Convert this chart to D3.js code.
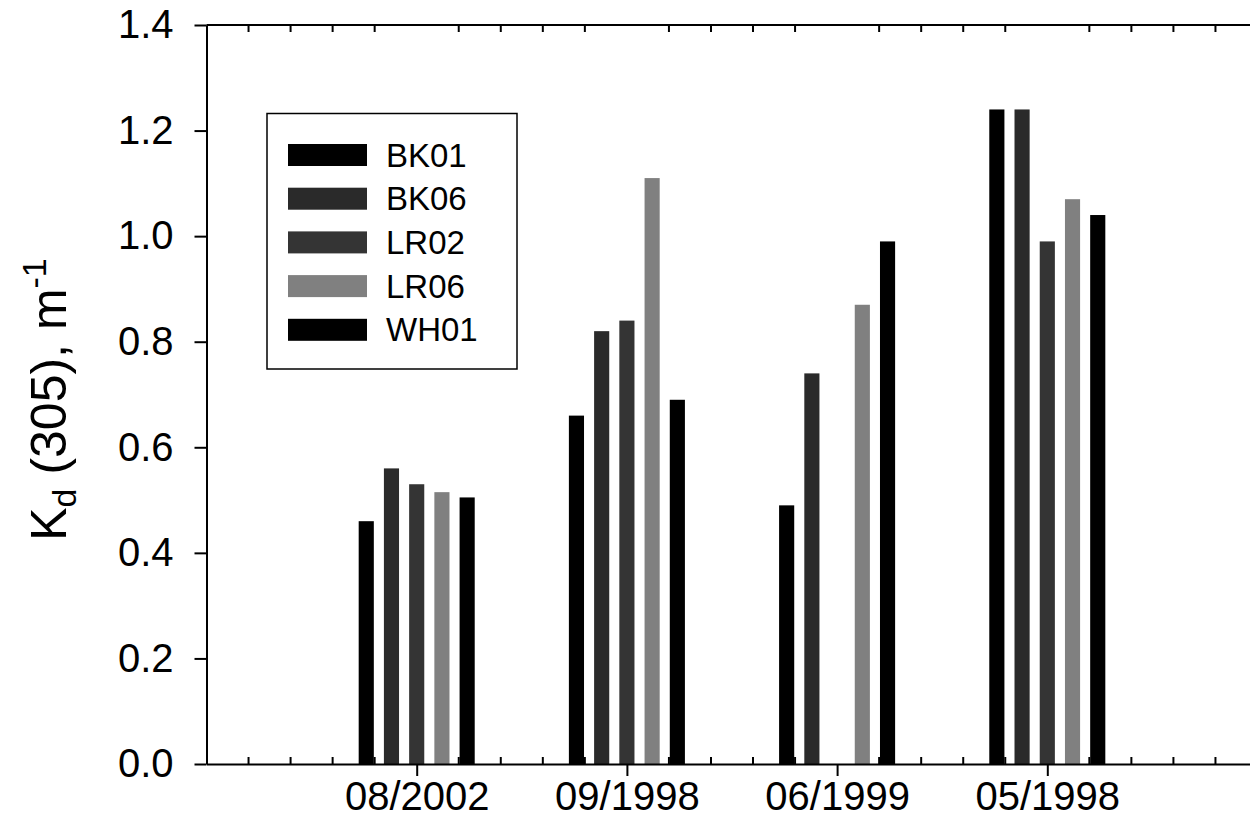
<!DOCTYPE html>
<html>
<head>
<meta charset="utf-8">
<script src="https://cdn.jsdelivr.net/npm/d3@7"></script>
<style>
  body { margin: 0; background: #fff; }
  svg { display: block; font-family: "Liberation Sans", Arial, sans-serif; }
</style>
</head>
<body>
<svg id="chart" width="1250" height="818"></svg>
<script>
// dates along the x axis
var dates = ["08/2002", "09/1998", "06/1999", "05/1998"];
// stations (series)
var stations = ["BK01", "BK06", "LR02", "LR06", "WH01"];
var colors = ["#000000", "#2a2a2a", "#343434", "#808080", "#000000"];
// Kd(305) values per station, one per date (null = no bar)
var bk01 = [0.46, 0.66, 0.49, 1.24];
var bk06 = [0.56, 0.82, 0.74, 1.24];
var lr02 = [0.53, 0.84, null, 0.99];
var lr06 = [0.515, 1.11, 0.87, 1.07];
var wh01 = [0.505, 0.69, 0.99, 1.04];
var yTicks = [0, 0.2, 0.4, 0.6, 0.8, 1.0, 1.2, 1.4];

var values = [bk01, bk06, lr02, lr06, wh01];

var svg = d3.select("#chart");

var plotLeft = 206.5, plotTop = 25, plotBottom = 764;
var x = d3.scaleLinear().domain([0, 5]).range([plotLeft, plotLeft + 5 * 210.2]);
var y = d3.scaleLinear().domain([0, 1.4]).range([plotBottom, plotTop]);
// position of each station inside a group, in x units
var inner = d3.scaleBand().domain(stations).range([-0.3, 0.3]).paddingInner(0.4).paddingOuter(0.2);

// bars
var bars = [];
stations.forEach(function(s, si) {
  dates.forEach(function(d, di) {
    if (values[si][di] != null) bars.push({station: s, si: si, di: di, v: values[si][di]});
  });
});

// minor ticks (under the bars)
var minor = d3.range(0, 5.01, 0.2).map(function(v) { return Math.round(v * 10) / 10; })
  .filter(function(v) { return v % 1 !== 0; });

svg.append("g").selectAll("line").data(minor).enter().append("line")
  .attr("x1", d => x(d)).attr("x2", d => x(d))
  .attr("y1", plotBottom).attr("y2", plotBottom - 7)
  .attr("stroke", "#000").attr("stroke-width", 2);
svg.append("g").selectAll("line").data(minor).enter().append("line")
  .attr("x1", d => x(d)).attr("x2", d => x(d))
  .attr("y1", plotTop).attr("y2", plotTop + 7)
  .attr("stroke", "#000").attr("stroke-width", 2);

svg.append("g").selectAll("rect").data(bars).enter().append("rect")
  .attr("x", d => x(d.di + 1 + inner(d.station)))
  .attr("width", d => x(inner.bandwidth()) - x(0))
  .attr("y", d => y(d.v))
  .attr("height", d => y(0) - y(d.v))
  .attr("fill", d => colors[d.si]);

// y axis
var yAxis = d3.axisLeft(y).tickValues(yTicks).tickFormat(d3.format(".1f"))
  .tickSizeInner(12).tickSizeOuter(0).tickPadding(21);
var gy = svg.append("g").attr("transform", "translate(" + plotLeft + ",0)").call(yAxis);
gy.select(".domain").attr("stroke-width", 2);
gy.selectAll(".tick line").attr("stroke-width", 2);
gy.selectAll(".tick text").attr("font-size", 40).attr("font-family", "Liberation Sans, Arial, sans-serif").attr("fill", "#000");

// x axis
var xAxis = d3.axisBottom(x).tickValues([1, 2, 3, 4]).tickFormat((d, i) => dates[i])
  .tickSizeInner(12).tickSizeOuter(0).tickPadding(6);
var gx = svg.append("g").attr("transform", "translate(0," + plotBottom + ")").call(xAxis);
gx.select(".domain").attr("stroke-width", 2);
gx.selectAll(".tick line").attr("stroke-width", 2);
gx.selectAll(".tick text").attr("font-size", 40).attr("font-family", "Liberation Sans, Arial, sans-serif").attr("fill", "#000");

// top frame line
svg.append("line").attr("x1", plotLeft).attr("x2", x(5)).attr("y1", plotTop).attr("y2", plotTop)
  .attr("stroke", "#000").attr("stroke-width", 2);

// y title
var title = svg.append("text")
  .attr("transform", "translate(66," + ((plotTop + plotBottom) / 2 + 5) + ") rotate(-90)")
  .attr("text-anchor", "middle").attr("font-size", 50).attr("fill", "#000");
title.append("tspan").text("K");
title.append("tspan").attr("font-size", 34).attr("dy", 10).text("d");
title.append("tspan").attr("dy", -10).text(" (305), m");
title.append("tspan").attr("font-size", 34).attr("dy", -20).text("-1");

// legend
var lg = svg.append("g");
lg.append("rect").attr("x", 267).attr("y", 113.5).attr("width", 250).attr("height", 255.5)
  .attr("fill", "#fff").attr("stroke", "#000").attr("stroke-width", 1.5);
var rows = lg.selectAll("g").data(stations).enter().append("g")
  .attr("transform", (d, i) => "translate(0," + (155 + i * 43.7) + ")");
rows.append("rect").attr("x", 288).attr("y", -11).attr("width", 79).attr("height", 22)
  .attr("fill", (d, i) => colors[i]);
rows.append("text").attr("x", 386).attr("y", 11.5).attr("font-size", 33).attr("fill", "#000").text(d => d);
</script>
</body>
</html>
